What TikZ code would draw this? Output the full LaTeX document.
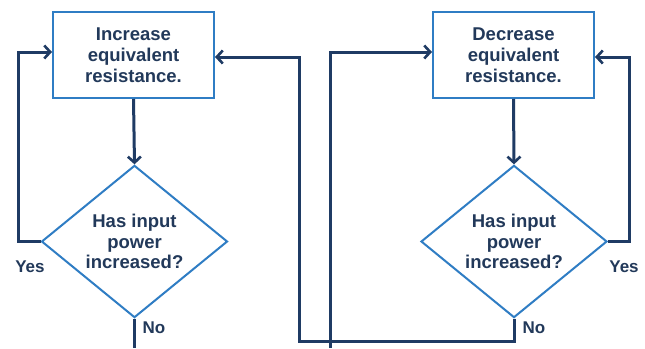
\documentclass[tikz,border=0pt]{standalone}
\usepackage{fontspec}
\setmainfont{Liberation Sans}
\usetikzlibrary{shapes.geometric,arrows.meta}
\definecolor{boxblue}{HTML}{2F7DC4}
\definecolor{navy}{HTML}{1F3B64}
\definecolor{txt}{HTML}{22395A}
\tikzset{
  procbox/.style={draw=boxblue,line width=2pt,fill=white,minimum width=161pt,minimum height=86pt,inner sep=0pt,align=center,font=\fontsize{18.5}{21}\selectfont\bfseries,text=txt},
  decbox/.style={diamond,draw=boxblue,line width=2pt,fill=white,minimum width=186pt,minimum height=151pt,inner sep=0pt,align=center,font=\fontsize{18.5}{20.5}\selectfont\bfseries,text=txt},
  conn/.style={draw=navy,line width=3pt},
  arr/.style={conn,-{Straight Barb[length=6pt,width=13pt,line width=2.6pt]}},
  lbl/.style={font=\fontsize{17}{18}\selectfont\bfseries,text=txt,inner sep=0pt}
}
\begin{document}
\begin{tikzpicture}[x=1pt,y=-1pt]
\useasboundingbox[fill=white] (0,0) rectangle (645,348);
\node[procbox] (b1) at (133.5,55) {Increase\\equivalent\\resistance.};
\node[decbox] (d1) at (134.5,241.5) {Has input\\power\\increased?};
\node[procbox] (b2) at (513.5,55) {Decrease\\equivalent\\resistance.};
\node[decbox] (d2) at (514,241.5) {Has input\\power\\increased?};
\coordinate (e1) at (134.5,348);
\coordinate (s2) at (330,348);
\draw[arr] (b1.south) -- (d1.north);
\draw[arr] (b2.south) -- (d2.north);
\draw[arr] (d1.west) -- ++(-22,0) |- ([yshift=3pt]b1.west);
\draw[arr] (d2.east) -- ++(21,0) |- ([yshift=-2pt]b2.east);
\draw[arr] (d2.south) -- ++(0,23) -| ([xshift=84pt,yshift=-2pt]b1.east) -- ([yshift=-2pt]b1.east);
\draw[arr] (s2) |- ([yshift=3pt]b2.west);
\draw[conn] (d1.south) -- (e1);
\node[lbl] (y1) at (30,267) {Yes};
\node[lbl] (n1) at (154,328) {No};
\node[lbl] (y2) at (624,267) {Yes};
\node[lbl] (n2) at (534,328) {No};
\end{tikzpicture}
\end{document}
